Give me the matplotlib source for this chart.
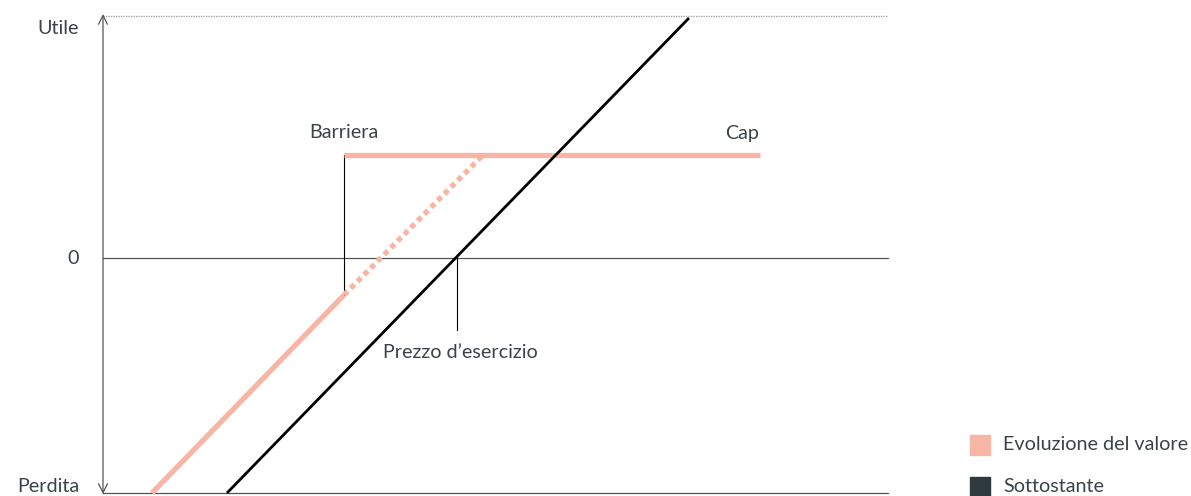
import matplotlib

matplotlib.use("Agg")
import matplotlib.pyplot as plt

plt.rcParams["font.family"] = ["Lato", "DejaVu Sans"]

# payoff diagram values (x = underlying level, y = profit / loss)
underlying_x = [124, 586]
underlying_y = [-235, 240]
product_x = [49, 241]
product_y = [-235, -37]
product_dotted_x = [241, 380]
product_dotted_y = [-37, 103]
cap_x = [241, 657]
cap_level = 103
barrier_x = 241
strike_x = 354
y_labels = ["Utile", "0", "Perdita"]
y_label_vals = [230, 0, -228]
legend_labels = ["Evoluzione del valore", "Sottostante"]

PINK = "#F7B6A5"
DARK = "#2F3A3E"
TEXT = "#3A4448"
GREY = "#555555"

fig = plt.figure(figsize=(11.91, 4.96), dpi=100)
ax = fig.add_axes([0, 0, 1, 1])
ax.set_xlim(-103, 1088)
ax.set_ylim(-238, 258)
ax.axis("off")

x_end = 785
# frame lines
ax.plot([0, x_end], [0, 0], color=GREY, lw=0.9)
ax.plot([0, x_end], [-235, -235], color=GREY, lw=0.9)
ax.plot([0, x_end], [242, 242], color="#999999", lw=0.9, ls=(0, (1, 1)))
ax.annotate("", xy=(0, 244), xytext=(0, -236),
            arrowprops=dict(arrowstyle="<->", color=GREY, lw=0.9,
                            mutation_scale=16, shrinkA=0, shrinkB=0))

# guide lines
ax.plot([barrier_x, barrier_x], [product_y[1], cap_level], color="black", lw=0.8)
ax.plot([strike_x, strike_x], [0, -72], color="black", lw=0.8)

# series
ax.plot(product_x, product_y, color=PINK, lw=3.8, solid_capstyle="butt")
ax.plot(product_dotted_x, product_dotted_y, color=PINK, lw=3.8, ls=(0, (1, 0.8)))
ax.plot(cap_x, [cap_level, cap_level], color=PINK, lw=3.8, solid_capstyle="butt")
ax.plot(underlying_x, underlying_y, color="black", lw=2.0, solid_capstyle="butt")

# labels
fs = 14.2
for lab, v in zip(y_labels, y_label_vals):
    ax.text(-24, v, lab, ha="right", va="center", fontsize=fs, color=TEXT)
ax.text(barrier_x, 125, "Barriera", ha="center", va="center", fontsize=fs, color=TEXT)
ax.text(639, 125, "Cap", ha="center", va="center", fontsize=fs, color=TEXT)
ax.text(strike_x + 3, -94, "Prezzo d\u2019esercizio", ha="center", va="center",
        fontsize=fs, color=TEXT)

# legend
for i, (lab, col) in enumerate(zip(legend_labels, [PINK, DARK])):
    yy = -187 - i * 42
    ax.scatter([877], [yy], marker="s", s=190, color=col)
    ax.text(900, yy, lab, ha="left", va="center", fontsize=fs, color=TEXT)

fig.savefig("out.png", dpi=100)
